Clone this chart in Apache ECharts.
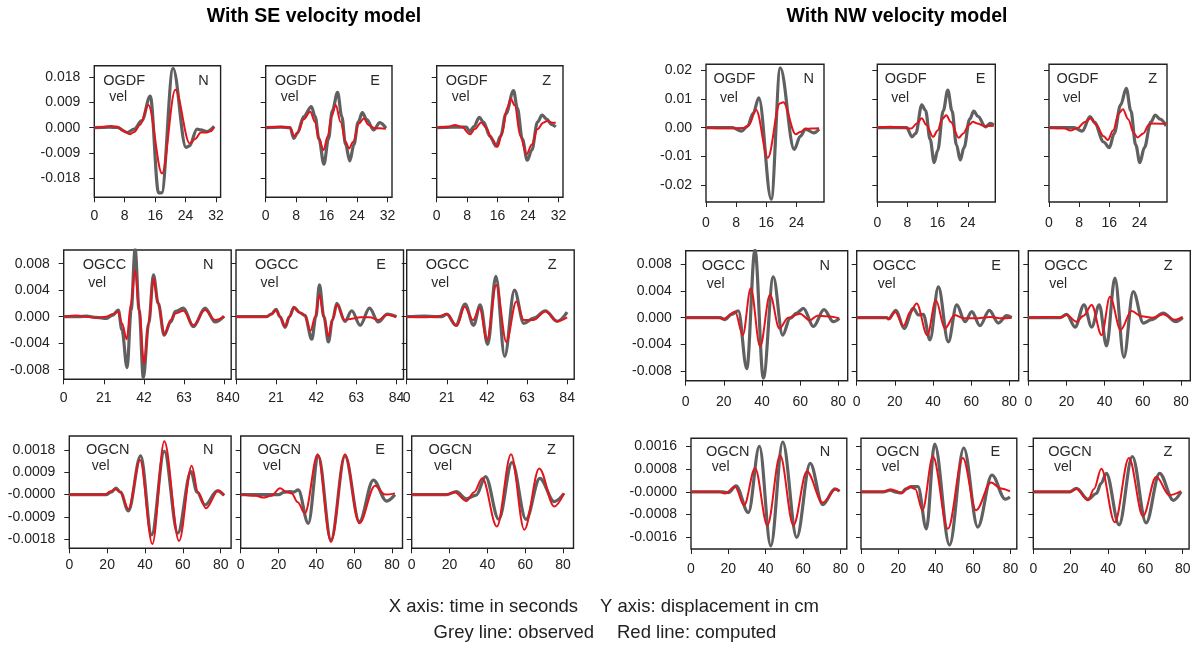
<!DOCTYPE html>
<html><head><meta charset="utf-8">
<script src="https://cdn.jsdelivr.net/npm/echarts@6/dist/echarts.min.js"></script>
<style>html,body{margin:0;padding:0;background:#fff}#c{width:1204px;height:647px}</style>
</head><body><div id="c"></div>
<script>
// ---------- tick values & labels ----------
const xTicksSE1 = [0, 8, 16, 24, 32];
const xTicksNW1 = [0, 8, 16, 24];
const xTicksSE2 = [0, 21, 42, 63, 84];
const xTicks80 = [0, 20, 40, 60, 80];
const yTicksSE1 = [-0.018, -0.009, 0, 0.009, 0.018];
const yLabelsSE1 = ['-0.018', '-0.009', '0.000', '0.009', '0.018'];
const yTicksNW1 = [-0.02, -0.01, 0, 0.01, 0.02];
const yLabelsNW1 = ['-0.02', '-0.01', '0.00', '0.01', '0.02'];
const yTicksRow2 = [-0.008, -0.004, 0, 0.004, 0.008];
const yLabelsRow2 = ['-0.008', '-0.004', '0.000', '0.004', '0.008'];
const yTicksSE3 = [-0.0018, -0.0009, 0, 0.0009, 0.0018];
const yLabelsSE3 = ['-0.0018', '-0.0009', '-0.0000', '0.0009', '0.0018'];
const yTicksNW3 = [-0.0016, -0.0008, 0, 0.0008, 0.0016];
const yLabelsNW3 = ['-0.0016', '-0.0008', '-0.0000', '0.0008', '0.0016'];
const stations = ['OGDF', 'OGCC', 'OGCN'];
const components = ['N', 'E', 'Z'];
const titles = ['With SE velocity model', 'With NW velocity model'];
const notes = ['X axis: time in seconds', 'Y axis: displacement in cm', 'Grey line: observed', 'Red line: computed'];

// ---------- waveforms [time s, value] : obs = grey, syn = red ----------
// SE model, OGDF
const SE_OGDF_N_obs = [[0,0],[4,0.0002],[6,0.0001],[8.7,-0.0017],[10.5,-0.0005],[12.5,0.0025],[14.7,0.0113],[16.9,-0.0232],[17.7,-0.0232],[20.7,0.0212],[24.1,-0.007],[25,-0.0065],[27,-0.0005],[28,-0.0008],[29.6,-0.0014],[31.5,0.0005]];
const SE_OGDF_N_syn = [[0,0],[2,0.0002],[4.5,0.0006],[6,0.0003],[7.5,-0.001],[9.4,-0.0023],[10.5,-0.0015],[12,0.001],[14.2,0.0081],[17.8,-0.0163],[21.3,0.0135],[25.1,-0.0056],[26.5,-0.004],[28,-0.0017],[29.5,-0.0017],[30.5,-0.0013],[31.5,0.0002]];
const SE_OGDF_E_obs = [[0,0],[4,0.0002],[6.4,0],[7.4,-0.0038],[8.3,-0.002],[10,0.004],[12,0.0075],[13,0.004],[14,-0.004],[15.3,-0.013],[16.5,-0.004],[17.5,0.006],[18.9,0.0126],[20,0.004],[21,-0.006],[22.1,-0.0118],[23.2,-0.006],[24.3,0.002],[25.4,0.0054],[26.5,0.003],[28.4,-0.0008],[30,0.0018],[31.6,-0.0002]];
const SE_OGDF_E_syn = [[0,0],[4,0.0003],[6.4,0.0001],[7.5,-0.003],[8.5,-0.0015],[10,0.003],[11.7,0.0057],[13,0.002],[14,-0.004],[15.2,-0.008],[16.3,-0.003],[17.3,0.004],[18.4,0.0081],[19.7,0.002],[21,-0.005],[21.9,-0.0074],[23,-0.005],[24.5,0.0015],[25.8,0.0033],[27,0.001],[28.6,-0.0002],[30,-0.0002],[31.6,-0.0004]];
const SE_OGDF_Z_obs = [[0,0],[4,0.0002],[7.8,0.0002],[8.7,-0.0014],[9.8,0.0005],[11.2,0.0037],[12.3,0.002],[14,-0.003],[15.6,-0.0066],[16.8,-0.003],[18.2,0.005],[20.2,0.0132],[21.2,0.007],[22.5,-0.004],[23.8,-0.0116],[25,-0.008],[26.5,0.002],[27.7,0.0045],[29,0.003],[30.1,0.0012],[31.3,0.0003]];
const SE_OGDF_Z_syn = [[0,0],[3,0.0003],[4.8,0.001],[6.5,0.0003],[8.8,-0.0023],[10,-0.0005],[11.7,0.0019],[13,0],[14.5,-0.004],[16,-0.0068],[17.2,-0.002],[18.5,0.007],[19.5,0.0103],[20.5,0.008],[22,-0.003],[23.6,-0.0095],[25,-0.006],[26.5,-0.0005],[28,0.0018],[29,0.0024],[30.5,0.0018],[31.3,0.0018]];
// SE model, OGCC
const SE_OGCC_N_obs = [[0,0],[8,0],[12,0.0001],[17,-0.0001],[22.5,-0.00025],[25.5,0.0002],[28.6,0.001],[30.5,-0.002],[33.2,-0.0077],[35.3,0.001],[37.4,0.0102],[39.5,0.001],[41.7,-0.0092],[44.5,-0.001],[47,0.0063],[49.5,0.002],[52.6,-0.0028],[56,-0.0008],[58.5,0.0008],[62.7,0.0013],[67.9,-0.0015],[74,0.0013],[79.3,-0.0008],[84,0.0001]];
const SE_OGCC_N_syn = [[0,0],[6.8,0.0002],[12,0],[17,-0.0002],[22,0],[26,0.0004],[28.5,0.0008],[30.5,-0.001],[33,-0.0034],[35.2,0.002],[37.4,0.007],[39.5,0.001],[42.1,-0.0071],[44.5,-0.001],[47,0.0058],[49.5,0.002],[52.7,-0.0027],[56,-0.0005],[58.5,0.0005],[62.7,0.0009],[67.9,-0.0013],[74,0.001],[79.3,-0.0005],[84,0]];
const SE_OGCC_E_obs = [[0,0],[16,0],[18.5,0.0004],[21,0.0011],[23,0],[25.7,-0.0016],[28,0],[30.3,0.0014],[33.5,0.0006],[36,0.0002],[39.7,-0.0034],[41.8,0],[43.7,0.0048],[46,0],[48.4,-0.0038],[50.5,-0.0005],[52.8,0.002],[57,-0.0007],[60.6,0.0009],[65,-0.0013],[69.9,0.0013],[74.5,-0.0008],[79.2,0.0004],[84,0]];
const SE_OGCC_E_syn = [[0,0],[16,0],[18.5,0.0004],[21,0.001],[23,0],[25.7,-0.0015],[28,0],[30.3,0.0014],[33.5,0.0006],[36,0.0002],[39,-0.0021],[41.5,0],[43.7,0.0033],[46,0],[48.4,-0.003],[50.5,-0.0005],[52.8,0.0018],[57,-0.0005],[60.6,-0.0003],[65,-0.0001],[70,-0.0001],[74.5,-0.0005],[79.2,0.0003],[84,0]];
const SE_OGCC_Z_obs = [[0,0],[9,0.0001],[15.8,0],[18.5,0],[21,0.0004],[25.7,-0.0013],[30.6,0.0019],[35,-0.0013],[38.5,0.0018],[42.4,-0.0042],[46.7,0.0061],[51.3,-0.006],[56.4,0.004],[61.3,-0.001],[66.5,-0.0002],[72.6,0.0009],[78.8,-0.0007],[84,0.0007]];
const SE_OGCC_Z_syn = [[0,0],[9,-0.0001],[15.8,0],[21,0.0004],[26.3,-0.0014],[30.3,0.0015],[34.7,-0.0005],[38.2,0.0013],[42,-0.0035],[46.9,0.0048],[52.2,-0.0038],[57.4,0.0023],[61.3,-0.0005],[66.5,-0.0005],[72.6,0.0008],[78.8,-0.0007],[84,-0.0001]];
// SE model, OGCN
const SE_OGCN_N_obs = [[0,0],[15,0],[19.7,0],[22,0.0001],[24.7,0.00026],[27,0.0001],[31.2,-0.00066],[37.7,0.00157],[43.5,-0.00163],[50.2,0.00176],[57.3,-0.00156],[64.3,0.00093],[67.5,0.0001],[71.7,-0.00042],[78.2,0.00015],[81.8,-0.00003]];
const SE_OGCN_N_syn = [[0,0],[19,0],[21.5,0.00013],[24.5,0.00022],[27,0.0001],[31.2,-0.00058],[37.4,0.0014],[43.9,-0.002],[50.2,0.00216],[58,-0.00187],[64.7,0.00117],[68,0.0001],[72.2,-0.00055],[78.8,0.00017],[81.8,-0.00003]];
const SE_OGCN_E_obs = [[0,0],[12,0],[20,0],[23,0.0001],[26,0.00012],[28,0.0001],[30.4,0.00019],[35.7,-0.00116],[41,0.00157],[47.7,-0.00183],[55.1,0.00157],[62.7,-0.00109],[70.1,0.00059],[77.1,-0.00026],[81.5,0]];
const SE_OGCN_E_syn = [[0,0],[8,-0.00005],[12,-0.00012],[16,-0.00005],[20.8,0.00026],[24,0.00012],[27,0.00005],[30,-0.0003],[33.9,-0.00075],[40.7,0.00163],[47.7,-0.00192],[55.1,0.00163],[62.7,-0.00116],[71,0.00036],[76.3,0],[81.5,0.00005]];
const SE_OGCN_Z_obs = [[0,0],[18.4,0],[23.6,0.00012],[28.9,-0.00017],[34.1,-0.00002],[39,0.00073],[46,-0.001],[53,0.0013],[60.4,-0.001],[67.7,0.00066],[75.3,-0.00028],[80.5,0.00005]];
const SE_OGCN_Z_syn = [[0,0],[18.4,0],[22.7,0.0001],[28.9,-0.00026],[33,0.0001],[37.3,0.00066],[45,-0.00129],[52.5,0.00163],[59.5,-0.00142],[67.4,0.00106],[75.3,-0.00048],[80.5,0.00005]];
// NW model, OGDF
const NW_OGDF_N_obs = [[0,0],[7,0],[9.4,-0.0012],[11,0.0005],[12.5,0.005],[14,0.0105],[17.3,-0.025],[19.7,0.021],[23.4,-0.0076],[25,-0.003],[26.4,-0.0005],[28.6,-0.0018],[30,-0.0005]];
const NW_OGDF_N_syn = [[0,0],[5,-0.0002],[10,-0.0001],[11.3,0.0008],[13.3,0.0062],[16.4,-0.0105],[19.6,0.0085],[20.5,0.0089],[23.8,-0.0023],[25,-0.0015],[26.4,-0.0004],[28,-0.0003],[30,-0.0002]];
const NW_OGDF_E_obs = [[0,0],[7.8,0],[9.2,-0.0032],[10.2,-0.002],[11.8,0.008],[12.8,0.006],[14,-0.004],[15.1,-0.0122],[16,-0.008],[17.5,0.006],[18.7,0.0132],[19.8,0.006],[21,-0.006],[22,-0.0113],[23,-0.007],[24.5,0.003],[25.6,0.0058],[26.7,0.004],[28.7,0.0003],[30,0.0015],[30.9,0.001]];
const NW_OGDF_E_syn = [[0,0],[3.5,0.0003],[7,0],[9,-0.0003],[10.5,0.0015],[11.8,0.0033],[13,0.001],[14.8,-0.0032],[16,-0.001],[17.2,0.003],[18.3,0.0044],[19.5,0.002],[21.6,-0.0035],[22.8,-0.002],[24.3,0.001],[25.4,0.0021],[26.5,0.0015],[28.3,0.0006],[30.9,0.0007]];
const NW_OGDF_Z_obs = [[0,0],[6.6,0],[8.8,-0.0012],[10.9,0.0039],[12,0.002],[14.5,-0.005],[16,-0.007],[17.3,-0.002],[19,0.008],[20.5,0.0138],[21.7,0.006],[23,-0.006],[24.1,-0.0122],[25.3,-0.007],[27,0.002],[28.2,0.0044],[29.5,0.003],[31.1,0.0006]];
const NW_OGDF_Z_syn = [[0,0],[4,-0.0002],[5.7,-0.001],[7.5,-0.0002],[9.5,0.002],[11.1,0.0033],[12.5,0.001],[14.5,-0.003],[15.6,-0.0043],[17,-0.001],[18.5,0.005],[19.6,0.0065],[21,0.003],[22.5,-0.002],[23.5,-0.0034],[25,-0.002],[26.5,0.001],[27.3,0.0015],[31.1,0.0014]];
// NW model, OGCC
const NW_OGCC_N_obs = [[0,0],[18,0],[20.6,-0.0003],[24,0.0005],[27.6,0.001],[32,-0.0076],[36.3,0.0101],[40.7,-0.009],[45.9,0.0061],[50.8,-0.0026],[54.7,-0.0001],[58.2,0.0007],[61.7,0.0014],[66.9,-0.0013],[72.5,0.0012],[77.4,-0.0006],[80.5,-0.0001]];
const NW_OGCC_N_syn = [[0,0],[17,0],[19.7,-0.0002],[25.9,0.0009],[29.9,-0.0026],[34.1,0.0044],[39,-0.0043],[44.2,0.0034],[49.1,-0.0016],[53.8,0],[59.9,0.0006],[65,-0.0004],[69,0.0003],[74,0.0002],[80.5,-0.0001]];
const NW_OGCC_E_obs = [[0,0],[15.7,0],[16.6,-0.0002],[20.6,0.0011],[24.8,-0.0016],[29.7,0.0014],[32.3,0.0004],[34.9,0.0005],[38.4,-0.0033],[42.8,0.0046],[48,-0.0036],[52.4,0.0019],[56.8,-0.0006],[60.3,0.0009],[64.6,-0.0012],[69.5,0.0011],[74.2,-0.0008],[78.6,0.0003],[81.2,0]];
const NW_OGCC_E_syn = [[0,0],[15.7,0],[17,-0.0002],[20,0.0009],[24.6,-0.0012],[28,0.0008],[31.4,0.0021],[37,-0.0026],[41.5,0.0026],[46.2,-0.0016],[51.4,0.0004],[56,-0.0001],[62,-0.0001],[70,0.0001],[76,-0.0001],[81.2,0]];
const NW_OGCC_Z_obs = [[0,0],[16.6,0],[20.1,0.0005],[24.5,-0.0014],[29.2,0.0019],[33.2,-0.0014],[37.2,0.0019],[41,-0.0042],[45.4,0.0059],[50.1,-0.0059],[55,0.0039],[60.3,-0.0008],[64.6,-0.0003],[70.7,0.0007],[77.4,-0.0006],[80.9,0]];
const NW_OGCC_Z_syn = [[0,0],[12,0.0001],[16.6,0],[20.1,0.0004],[25.3,-0.0006],[29,0.0003],[33.2,0.0019],[38.4,-0.0026],[42.8,0.0031],[48.4,-0.0018],[54.1,0.001],[59.4,0.0002],[65,0],[70.7,0.0005],[76.8,-0.0003],[80.9,0.0001]];
// NW model, OGCN
const NW_OGCN_N_obs = [[0,0],[17,0],[20,-0.00003],[24.1,0.00021],[30.7,-0.00073],[36.6,0.0016],[42.7,-0.0019],[49.1,0.00175],[56.6,-0.0016],[63.8,0.001],[70.5,-0.00045],[77.1,0.0001],[79.5,0.00002]];
const NW_OGCN_N_syn = [[0,0],[15,0],[18.2,-0.00006],[23.6,0.00018],[28.4,-0.00047],[34.3,0.00083],[40.9,-0.00118],[47.7,0.00128],[54.8,-0.00118],[62,0.00071],[70.5,-0.00038],[77.7,0.0001],[79.5,0.00002]];
const NW_OGCN_E_obs = [[0,0],[12,0],[15.5,0.00006],[18,0],[21.7,-0.00004],[24,0.0001],[27,0.00018],[30.5,0.00018],[35,-0.0013],[39.4,0.00168],[47.4,-0.00187],[55,0.00154],[62.5,-0.00124],[70.1,0.00059],[77.2,-0.00026],[79.7,-0.00018]];
const NW_OGCN_E_syn = [[0,0],[12,0],[16.3,0.00008],[21.7,-0.00004],[26.1,0.00018],[29,0.0001],[32.9,-0.00065],[38.5,0.00124],[46.5,-0.0013],[54.5,0.00119],[61.6,-0.00065],[69.6,0.00033],[74.9,0.00012],[79.7,0.00002]];
const NW_OGCN_Z_obs = [[0,0],[19.6,0],[23.1,0.00012],[29.3,-0.00026],[33.8,-0.00006],[36.3,0.0003],[39.1,0.00065],[45.9,-0.00116],[53,0.00124],[60.4,-0.00109],[67.6,0.00065],[75,-0.0003],[79.1,0]];
const NW_OGCN_Z_syn = [[0,0],[19.6,0],[23.1,0.0001],[29.3,-0.0003],[32.5,0.0001],[36.4,0.00081],[43.6,-0.00107],[51.2,0.00119],[58.7,-0.00085],[65.8,0.00053],[72.9,-0.00012],[79.1,0.00002]];

// ---------- layout (positions/sizes only) ----------
const ROWS = [
  {top:65.7, h:131.6, lefts:[94.3,265.7,436.7], w:126.3, xMax:33.2, yMin:-0.0248, yMax:0.0221, xm:12, t:[9,15,12,15,31.6],
   xT:xTicksSE1, yT:yTicksSE1, yL:yLabelsSE1, st:0, data:[[SE_OGDF_N_obs,SE_OGDF_N_syn],[SE_OGDF_E_obs,SE_OGDF_E_syn],[SE_OGDF_Z_obs,SE_OGDF_Z_syn]]},
  {top:250, h:129.3, lefts:[63.7,236,406.7], w:167.5, xMax:87.7, yMin:-0.00945, yMax:0.01007, xm:12, t:[19,24.6,17.7,15,33],
   xT:xTicksSE2, yT:yTicksRow2, yL:yLabelsRow2, st:1, data:[[SE_OGCC_N_obs,SE_OGCC_N_syn],[SE_OGCC_E_obs,SE_OGCC_E_syn],[SE_OGCC_Z_obs,SE_OGCC_Z_syn]]},
  {top:436, h:112.3, lefts:[69.3,240.7,411.7], w:161.8, xMax:85.5, yMin:-0.00217, yMax:0.00237, xm:10, t:[16.7,22.4,17.7,14,29.7],
   xT:xTicks80, yT:yTicksSE3, yL:yLabelsSE3, st:2, data:[[SE_OGCN_N_obs,SE_OGCN_N_syn],[SE_OGCN_E_obs,SE_OGCN_E_syn],[SE_OGCN_Z_obs,SE_OGCN_Z_syn]]},
  {top:64.3, h:137.7, lefts:[706,877.3,1049], w:118, xMax:31.3, yMin:-0.026, yMax:0.0222, xm:14, t:[7.5,14,10,14.7,34],
   xT:xTicksNW1, yT:yTicksNW1, yL:yLabelsNW1, st:0, data:[[NW_OGDF_N_obs,NW_OGDF_N_syn],[NW_OGDF_E_obs,NW_OGDF_E_syn],[NW_OGDF_Z_obs,NW_OGDF_Z_syn]]},
  {top:250.7, h:130, lefts:[685.7,856.7,1028.3], w:162, xMax:84.9, yMin:-0.00939, yMax:0.00998, xm:14, t:[16,21,17.7,15.3,33.3],
   xT:xTicks80, yT:yTicksRow2, yL:yLabelsRow2, st:1, data:[[NW_OGCC_N_obs,NW_OGCC_N_syn],[NW_OGCC_E_obs,NW_OGCC_E_syn],[NW_OGCC_Z_obs,NW_OGCC_Z_syn]]},
  {top:438.3, h:110.7, lefts:[691,861,1033.3], w:155.8, xMax:83.4, yMin:-0.00201, yMax:0.00188, xm:13, t:[15,20.7,16.7,13.4,28.4],
   xT:xTicks80, yT:yTicksNW3, yL:yLabelsNW3, st:2, data:[[NW_OGCN_N_obs,NW_OGCN_N_syn],[NW_OGCN_E_obs,NW_OGCN_E_syn],[NW_OGCN_Z_obs,NW_OGCN_Z_syn]]}
];

const FONT = '"Liberation Sans", Arial, Helvetica, sans-serif';
const INK = '#222';
const grid = [], xAxis = [], yAxis = [], series = [], graphic = [];
function lab(v, ticks, labels) {
  for (let i = 0; i < ticks.length; i++) if (Math.abs(ticks[i] - v) < 1e-12) return labels[i];
  return '';
}
ROWS.forEach(r => {
  for (let c = 0; c < 3; c++) {
    const gi = grid.length;
    const left = r.lefts[c];
    grid.push({left: left, top: r.top, width: r.w, height: r.h, show: true, borderColor: INK, borderWidth: 1.4,
               backgroundColor: 'rgba(0,0,0,0)', containLabel: false, outerBoundsMode: 'none'});
    xAxis.push({type: 'value', gridIndex: gi, min: 0, max: r.xMax, splitLine: {show: false},
      axisLine: {show: false, onZero: false},
      axisTick: {show: true, length: 5, lineStyle: {color: INK, width: 1}, customValues: r.xT},
      axisLabel: {show: true, customValues: r.xT, margin: r.xm, fontSize: 14, color: INK, fontFamily: FONT,
                  formatter: v => String(v)}});
    yAxis.push({type: 'value', gridIndex: gi, min: r.yMin, max: r.yMax, splitLine: {show: false},
      axisLine: {show: false, onZero: false},
      axisTick: {show: true, length: 5, lineStyle: {color: INK, width: 1}, customValues: r.yT},
      axisLabel: {show: c === 0, customValues: r.yT, margin: 14, fontSize: 14, color: INK, fontFamily: FONT,
                  formatter: v => lab(v, r.yT, r.yL)}});
    const d = r.data[c];
    series.push({type: 'line', xAxisIndex: gi, yAxisIndex: gi, data: d[0], showSymbol: false, symbol: 'none',
                 smooth: 0.35, smoothMonotone: 'x',
                 lineStyle: {color: '#606060', width: 3.2, join: 'round'}, animation: false, z: 2});
    series.push({type: 'line', xAxisIndex: gi, yAxisIndex: gi, data: d[1], showSymbol: false, symbol: 'none',
                 smooth: 0.35, smoothMonotone: 'x',
                 lineStyle: {color: '#e3151c', width: 2, join: 'round'}, animation: false, z: 3});
    const [nx, vx, cr, ny, vy] = r.t;
    graphic.push({type: 'text', x: left + nx, y: r.top + ny, style: {text: stations[r.st], fill: '#2a2a2a',
      font: '14.5px ' + FONT, textAlign: 'left', textVerticalAlign: 'middle'}, z: 10});
    graphic.push({type: 'text', x: left + vx, y: r.top + vy, style: {text: 'vel', fill: '#2a2a2a',
      font: '14px ' + FONT, textAlign: 'left', textVerticalAlign: 'middle'}, z: 10});
    graphic.push({type: 'text', x: left + r.w - cr, y: r.top + ny, style: {text: components[c], fill: '#2a2a2a',
      font: '14.5px ' + FONT, textAlign: 'right', textVerticalAlign: 'middle'}, z: 10});
  }
});
// headings and notes
graphic.push({type: 'text', x: 314, y: 17, style: {text: titles[0], fill: '#000', font: 'bold 19.5px ' + FONT, textAlign: 'center', textVerticalAlign: 'middle'}});
graphic.push({type: 'text', x: 897, y: 17, style: {text: titles[1], fill: '#000', font: 'bold 19.5px ' + FONT, textAlign: 'center', textVerticalAlign: 'middle'}});
graphic.push({type: 'text', x: 578, y: 607, style: {text: notes[0], fill: INK, font: '18.5px ' + FONT, textAlign: 'right', textVerticalAlign: 'middle'}});
graphic.push({type: 'text', x: 600, y: 607, style: {text: notes[1], fill: INK, font: '18.5px ' + FONT, textAlign: 'left', textVerticalAlign: 'middle'}});
graphic.push({type: 'text', x: 594, y: 633, style: {text: notes[2], fill: INK, font: '18.5px ' + FONT, textAlign: 'right', textVerticalAlign: 'middle'}});
graphic.push({type: 'text', x: 617, y: 633, style: {text: notes[3], fill: INK, font: '18.5px ' + FONT, textAlign: 'left', textVerticalAlign: 'middle'}});

const chart = echarts.init(document.getElementById('c'), null, {renderer: 'canvas', width: 1204, height: 647});
chart.setOption({backgroundColor: '#fff', animation: false, grid, xAxis, yAxis, series, graphic,
  textStyle: {fontFamily: FONT}});
</script></body></html>
